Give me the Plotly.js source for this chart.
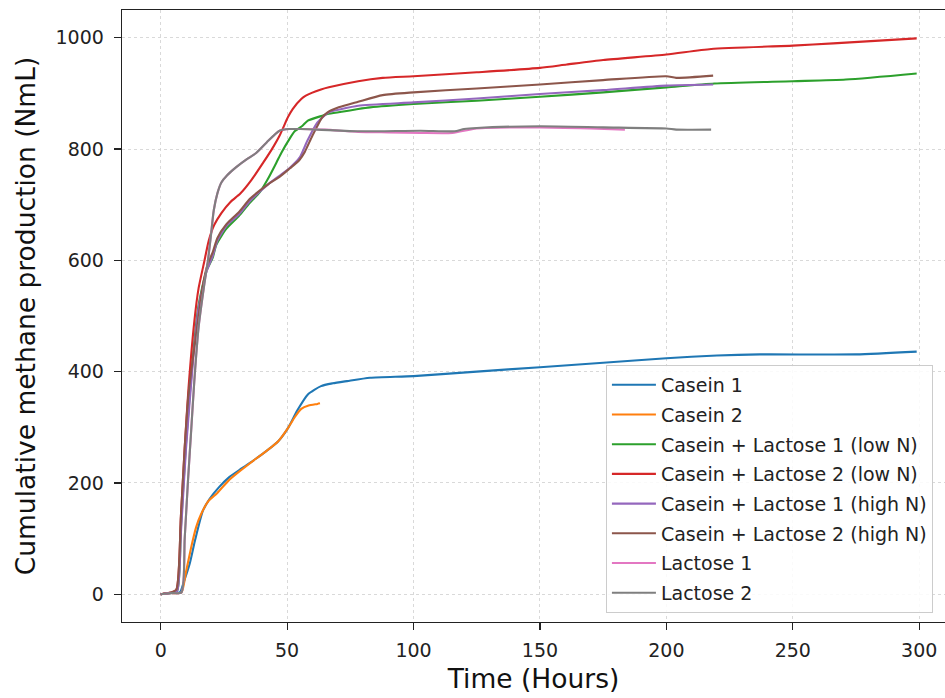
<!DOCTYPE html>
<html>
<head>
<meta charset="utf-8">
<script src="https://cdn.plot.ly/plotly-3.0.1.min.js"></script>
<style>html,body{margin:0;padding:0;background:#fff;}#chart{width:945px;height:698px;}</style>
</head>
<body>
<div id="chart"></div>
<script>
// Series names
const seriesNames = ["Casein 1", "Casein 2", "Casein + Lactose 1 (low N)", "Casein + Lactose 2 (low N)",
  "Casein + Lactose 1 (high N)", "Casein + Lactose 2 (high N)", "Lactose 1", "Lactose 2"];

// Casein 1
const casein1_t = [0, 4, 7.7, 9, 11.5, 13.5, 16.7, 19.3, 23, 27, 32, 37.5, 42, 46.5, 50.4, 54, 58.2, 63.4, 68, 73.7, 82.8, 100, 125, 150, 175, 200, 220, 237, 275, 299];
const casein1_v = [0, 2, 4, 20, 55, 95, 150, 171, 192, 210, 226, 243, 258, 275, 299, 330, 359, 374, 379, 383, 389, 392, 400, 408, 416, 424, 429, 431, 431, 436];

// Casein 2
const casein2_t = [0, 4, 8.2, 10, 12.1, 14, 16, 19, 22.4, 27, 31.5, 37.5, 42, 46.5, 50.4, 53, 55.6, 58.5, 62, 63];
const casein2_v = [0, 2, 3, 40, 85, 120, 144, 168, 182, 205, 222, 243, 258, 275, 299, 318, 333, 339, 342, 343];

// Casein + Lactose 1 (low N)
const cl1low_t = [0, 4, 6.5, 8, 10, 13, 15, 18, 20.6, 22, 26, 31, 35, 39.3, 42.6, 45.8, 47.8, 50.9, 53, 56.1, 58.2, 63.9, 66, 71.6, 78.1, 82.8, 100, 125, 150, 175, 200, 219, 250, 271, 299];
const cl1low_v = [0, 2, 6, 120, 270, 440, 520, 580, 605, 628, 657, 680, 702, 723, 748, 776, 794, 818, 832, 842, 851, 860, 863, 867, 872, 875, 881, 887, 894, 902, 911, 918, 922, 925, 936];

// Casein + Lactose 2 (low N)
const cl2low_t = [0, 4, 6.2, 8, 9.5, 11, 13.3, 15, 17.2, 19, 21.1, 24, 27.6, 31.5, 36, 40.6, 44, 47, 50.4, 52.2, 55.6, 57.4, 63.4, 66.5, 78.1, 87.8, 100, 125, 150, 160.6, 175, 200, 217.7, 250, 266, 299];
const cl2low_v = [0, 3, 8, 140, 263, 370, 490, 550, 597, 635, 663, 685, 705, 720, 745, 776, 800, 824, 858, 872, 890, 896, 907, 911, 922, 928, 931, 938, 946, 952, 960, 970, 980, 986, 990, 999];

// Casein + Lactose 1 (high N)
const cl1high_t = [0, 4, 6.5, 8, 10, 13, 15, 18, 20.6, 22.4, 26, 31, 35.4, 42.6, 47, 51, 55, 58, 62, 66.5, 71.6, 78.1, 100, 125, 150, 175, 200, 218.5];
const cl1high_v = [0, 2, 6, 110, 260, 430, 515, 578, 608, 635, 662, 683, 707, 737, 752, 766, 785, 815, 848, 866, 872, 878, 884, 891, 899, 906, 914, 916];

// Casein + Lactose 2 (high N)
const cl2high_t = [0, 4, 6.2, 8, 9.5, 11, 14.7, 16.5, 18.5, 20.6, 22.4, 26, 31, 35.4, 42.6, 47, 51, 54.8, 57, 60, 63.9, 66, 70.4, 78.1, 87.8, 100, 125, 150, 175, 200, 203.9, 218.5];
const cl2high_v = [0, 3, 8, 140, 263, 360, 490, 550, 592, 615, 640, 665, 687, 711, 737, 750, 765, 780, 795, 824, 857, 866, 875, 885, 897, 902, 909, 916, 924, 931, 928, 932];

// Lactose 1
const lac1_t = [0, 4, 8.2, 9.5, 10.8, 12, 13.3, 15, 17.2, 18.7, 20, 21, 22.4, 24, 26.3, 30, 34.1, 37.5, 41.9, 47, 50.9, 55, 65, 78.1, 90, 102.8, 115.4, 125, 150, 170, 183.6];
const lac1_v = [0, 2, 3, 100, 204, 290, 383, 480, 555, 600, 650, 690, 720, 740, 753, 768, 782, 792, 812, 833, 836, 836, 835, 831, 830, 829, 829, 837, 839, 837, 835];

// Lactose 2
const lac2_t = [0, 4, 8.2, 9.5, 10.8, 12, 13.3, 15, 17.2, 18.7, 20, 21, 22.4, 24, 26.3, 30, 34.1, 37.5, 41.9, 47, 50.9, 55.4, 78, 102.8, 116.2, 120, 125, 150, 175, 200, 203.9, 217.7];
const lac2_v = [0, 2, 3, 100, 204, 290, 383, 480, 555, 600, 650, 690, 720, 740, 753, 768, 782, 792, 812, 833, 836, 836, 832, 833, 832, 836, 838, 841, 839, 837, 835, 835];

// Tick values
const xTicks = [0, 50, 100, 150, 200, 250, 300];
const yTicks = [0, 200, 400, 600, 800, 1000];

const colors = ["#1f77b4", "#ff7f0e", "#2ca02c", "#d62728", "#9467bd", "#8c564b", "#e377c2", "#7f7f7f"];
const xs = [casein1_t, casein2_t, cl1low_t, cl2low_t, cl1high_t, cl2high_t, lac1_t, lac2_t];
const ys = [casein1_v, casein2_v, cl1low_v, cl2low_v, cl1high_v, cl2high_v, lac1_v, lac2_v];

const traces = seriesNames.map((n, i) => ({
  type: "scatter", mode: "lines", name: n, x: xs[i], y: ys[i],
  legendgroup: "g" + i,
  line: {color: colors[i], width: 2.1, shape: "spline", smoothing: 0.6}
}));

const font = "DejaVu Sans, sans-serif";
const layout = {
  width: 945, height: 698,
  margin: {l: 122, r: 0, t: 10, b: 76},
  paper_bgcolor: "#fff", plot_bgcolor: "#fff",
  showlegend: true,
  font: {family: font, color: "#222"},
  xaxis: {
    range: [-15.3, 310.2], tickvals: xTicks,
    ticks: "outside", ticklen: 7, tickcolor: "#222", tickwidth: 1.2,
    tickfont: {size: 19, family: font, color: "#222"}, ticklabelstandoff: 4,
    showline: true, linecolor: "#222", linewidth: 1.3, mirror: true,
    showgrid: true, gridcolor: "#d0d0d0", griddash: "dot", gridwidth: 0.8, zeroline: false,
    title: {text: "Time (Hours)", font: {size: 26.5, family: font, color: "#111"}, standoff: 9}
  },
  yaxis: {
    range: [-50, 1050], tickvals: yTicks,
    ticks: "outside", ticklen: 7, tickcolor: "#222", tickwidth: 1.2,
    tickfont: {size: 19, family: font, color: "#222"}, ticklabelstandoff: 6,
    showline: true, linecolor: "#222", linewidth: 1.3, mirror: false,
    showgrid: true, gridcolor: "#d0d0d0", griddash: "dot", gridwidth: 0.8, zeroline: false,
    title: {text: "Cumulative methane production (NmL)", font: {size: 26.5, family: font, color: "#111"}, standoff: 12}
  },
  legend: {
    x: 0.588, y: 0.42, xanchor: "left", yanchor: "top",
    bgcolor: "rgba(255,255,255,0.85)", bordercolor: "#cccccc", borderwidth: 1,
    font: {size: 19, family: font, color: "#222"},
    tracegroupgap: 2, itemwidth: 44
  }
};

Plotly.newPlot("chart", traces, layout, {displayModeBar: false, staticPlot: true});
</script>
</body>
</html>
